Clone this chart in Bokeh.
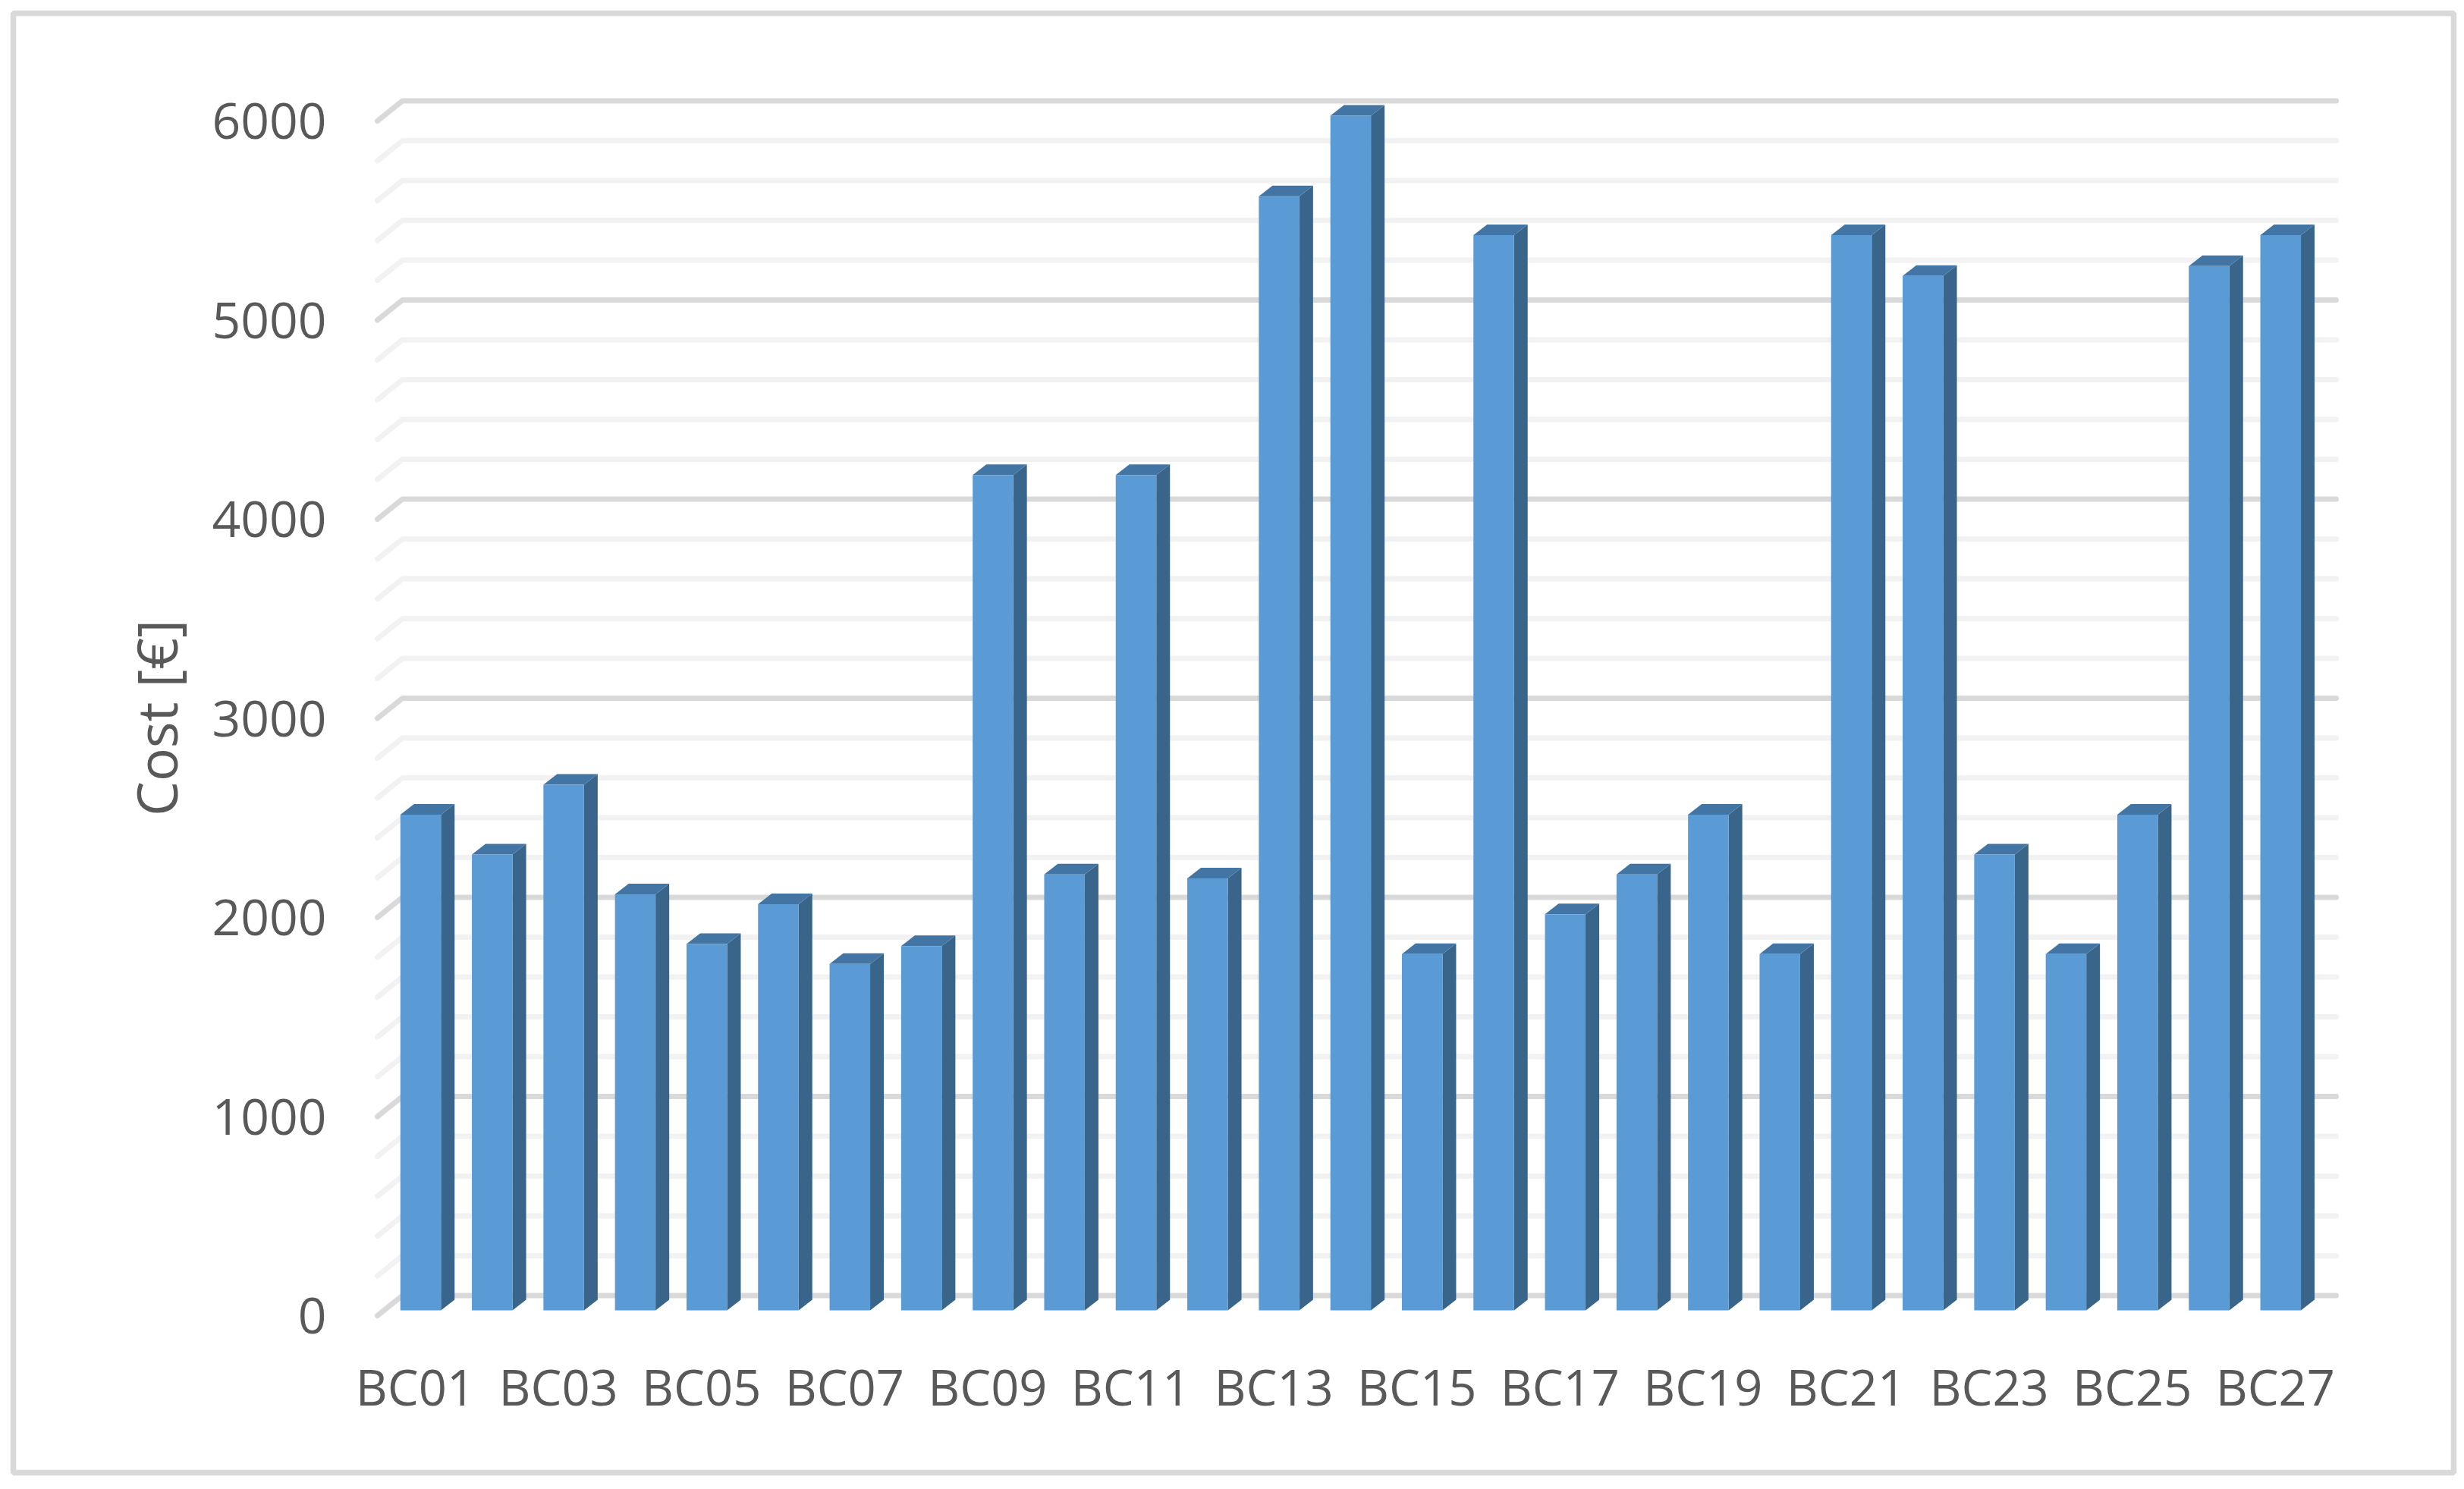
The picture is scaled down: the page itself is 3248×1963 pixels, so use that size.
from math import pi
from bokeh.plotting import figure
from bokeh.embed import file_html
from bokeh.resources import INLINE
from bokeh.models import Range1d, FixedTicker, LinearAxis, Label

categories = ["BC%02d" % i for i in range(1, 28)]
costs = [2490, 2290, 2640, 2090, 1840, 2040, 1740, 1830, 4195, 2190, 4195, 2170, 5595, 6000,
         1790, 5400, 1990, 2190, 2490, 1790, 5400, 5195, 2290, 1790, 2490, 5245, 5400]
y_ticks = [0, 1000, 2000, 3000, 4000, 5000, 6000]
minor_ticks = [200, 400, 600, 800, 1200, 1400, 1600, 1800, 2200, 2400, 2600, 2800, 3200, 3400, 3600,
               3800, 4200, 4400, 4600, 4800, 5200, 5400, 5600, 5800]
y_title = "Cost [€]"

FONT = "Open Sans"
TEXT = "#595959"
W, H = 3248, 1960
PX_X, PX_Y = 94.3, 0.2625
X1_PAGE, Y0_PAGE = 547.0, 1734.0
F_L, F_R, F_T, F_B = 17, 3234, 17, 1941

p = figure(width=W, height=H, output_backend="svg", toolbar_location=None,
           x_range=Range1d(1 + (F_L - X1_PAGE) / PX_X, 1 + (F_R - X1_PAGE) / PX_X),
           y_range=Range1d((Y0_PAGE - F_B) / PX_Y, (Y0_PAGE - F_T) / PX_Y),
           min_border_left=F_L, min_border_right=W - F_R,
           min_border_top=F_T, min_border_bottom=H - F_B,
           x_axis_location=None, y_axis_location=None)
p.outline_line_color = "#D9D9D9"
p.outline_line_width = 7.5
p.background_fill_color = "#FFFFFF"
p.border_fill_color = "#FFFFFF"
p.xgrid.visible = False
p.ygrid.visible = False

# walls: floor front edge -> back edge -> right end
gx0 = 1 + (497 - X1_PAGE) / PX_X
gx1 = 1 + (530 - X1_PAGE) / PX_X
gx2 = 1 + (3079 - X1_PAGE) / PX_X
gdy = 26.5 / PX_Y


def grid(vals, color, w):
    xs = [[gx0, gx1, gx2] for _ in vals]
    ys = [[v, v + gdy, v + gdy] for v in vals]
    p.multi_line(xs, ys, line_color=color, line_width=w, line_cap="round", line_join="round")


grid(minor_ticks, "#F2F2F2", 7)
grid(y_ticks, "#D9D9D9", 7)

# bars: the front face sits 7px into the floor depth
idx = list(range(1, 28))
bw = 53.5 / PX_X
cx = [i + 7 / PX_X for i in idx]
base = 7 / PX_Y
tops = [c + 7 / PX_Y for c in costs]
ddx, ddy = 18 / PX_X, 14 / PX_Y

p.patches([[c + bw / 2, c + bw / 2 + ddx, c + bw / 2 + ddx, c + bw / 2] for c in cx],
          [[base, base + ddy, t + ddy, t] for t in tops],
          fill_color="#39658A", line_color=None)
p.patches([[c - bw / 2, c - bw / 2 + ddx, c + bw / 2 + ddx, c + bw / 2] for c in cx],
          [[t, t + ddy, t + ddy, t] for t in tops],
          fill_color="#4275A3", line_color=None)
p.vbar(x=cx, width=bw, bottom=base, top=tops, fill_color="#5B9BD5", line_color=None)

# axes: the chart border is the plot frame, so the labels sit inside it
yax = LinearAxis(ticker=FixedTicker(ticks=y_ticks))
yax.axis_line_color = None
yax.major_tick_line_color = None
yax.minor_tick_line_color = None
yax.major_label_text_font = FONT
yax.major_label_text_font_size = "66px"
yax.major_label_text_color = TEXT
yax.major_label_standoff = -419
p.add_layout(yax, "left")

xax = LinearAxis(ticker=FixedTicker(ticks=idx[::2]),
                 major_label_overrides={i: categories[i - 1] for i in idx[::2]})
xax.axis_line_color = None
xax.major_tick_line_color = None
xax.minor_tick_line_color = None
xax.major_label_text_font = FONT
xax.major_label_text_font_size = "65px"
xax.major_label_text_color = TEXT
xax.major_label_standoff = -164
p.add_layout(xax, "below")

p.add_layout(Label(x=1 + (205 - X1_PAGE) / PX_X, y=(Y0_PAGE - 946) / PX_Y, text=y_title,
                   angle=pi / 2, text_align="center", text_baseline="middle",
                   text_font=FONT, text_font_size="73px", text_color=TEXT))

open("out.html", "w").write(file_html(p, INLINE))
